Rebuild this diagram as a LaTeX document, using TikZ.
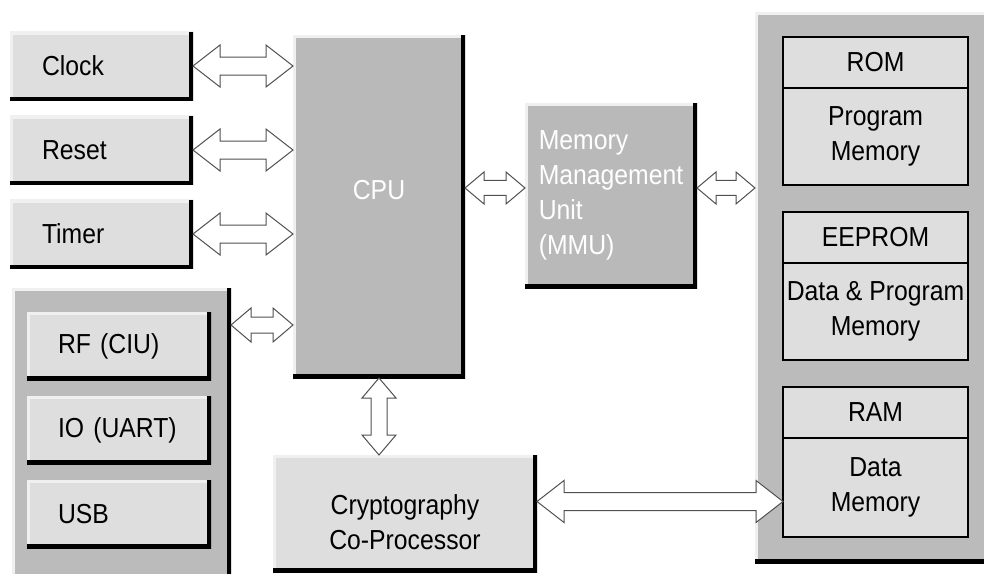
\documentclass[tikz,border=0pt]{standalone}
\usepackage{fontspec}
\setmainfont{Liberation Sans}[FakeStretch=0.9]
\usetikzlibrary{calc,positioning}

\definecolor{lightbox}{HTML}{DEDEDE}
\definecolor{darkbox}{HTML}{B9B9B9}
\definecolor{groupbox}{HTML}{BBBBBB}
\definecolor{bevel}{HTML}{F0F0F0}
\definecolor{busedge}{HTML}{505050}

\tikzset{
  raised/.style={path picture={
    \draw[bevel, line width=6pt] (path picture bounding box.south west) -- (path picture bounding box.north west) -- (path picture bounding box.north east);
    \draw[black, line width=8pt] (path picture bounding box.north east) -- (path picture bounding box.south east) -- (path picture bounding box.south west);
  }},
  unit/.style={raised, fill=lightbox, minimum height=69pt, inner xsep=32pt, text width=119pt, align=left},
  port/.style={raised, fill=lightbox, minimum height=68pt, inner xsep=31pt, text width=122pt, align=left},
  core/.style={raised, fill=darkbox, text=white},
  group/.style={raised, fill=groupbox},
  memhead/.style={draw, line width=1.2pt, fill=lightbox, minimum width=185pt, minimum height=51pt, outer sep=0pt},
  membody/.style={memhead, minimum height=97pt, align=center},
  busarrow/.style={draw=busedge, line width=1pt, fill=white, line join=miter},
}

% double bus arrow: from, to, head length, head half width, shaft half width
\newcommand{\dbus}[5]{%
  \draw[busarrow] (#1)
    -- ($(#1)!#3!(#2)!#4!90:(#2)$)
    -- ($(#1)!#3!(#2)!#5!90:(#2)$)
    -- ($(#2)!#3!(#1)!#5!-90:(#1)$)
    -- ($(#2)!#3!(#1)!#4!-90:(#1)$)
    -- (#2)
    -- ($(#2)!#3!(#1)!#4!90:(#1)$)
    -- ($(#2)!#3!(#1)!#5!90:(#1)$)
    -- ($(#1)!#3!(#2)!#5!-90:(#2)$)
    -- ($(#1)!#3!(#2)!#4!-90:(#2)$)
    -- cycle;}

\begin{document}
\begin{tikzpicture}[x=1pt, y=-1pt, every node/.style={font=\fontsize{27.5}{35}\selectfont, outer sep=0pt}]
\useasboundingbox (0,0) rectangle (984,573);

\node[group, minimum width=219pt, minimum height=292pt] (ioblock) at (121.5,434) {};
\node[group, minimum width=240pt, minimum height=551pt] (memory) at (875,287.5) {};

\node[unit] (clock) at (101.5,66) {Clock};
\node[unit] (reset) at (101.5,150) {Reset};
\node[unit] (timer) at (101.5,234) {Timer};

\node[port] (rf) at (119,346) {RF (CIU)};
\node[port] (io) at (119,430) {IO (UART)};
\node[port] (usb) at (119,514) {USB};

\node[core, minimum width=172pt, minimum height=343pt, text depth=33pt] (cpu) at (379,206.5) {CPU};
\node[core, minimum width=172pt, minimum height=185pt, align=left] (mmu) at (611,195.5) {Memory\\Management\\Unit\\(MMU)};
\node[raised, fill=lightbox, minimum width=264pt, minimum height=117pt, align=center, text height=78pt, text depth=6pt] (crypto) at (405,513.5) {Cryptography\\Co-Processor};

\node[memhead] (rom) at (875.5,62.5) {ROM};
\node[membody, below=0pt of rom] (progmem) {Program\\Memory};
\node[memhead] (eeprom) at (875.5,237.5) {EEPROM};
\node[membody, below=0pt of eeprom] (dpmem) {Data \& Program\\Memory};
\node[memhead] (ram) at (875.5,412.5) {RAM};
\node[membody, below=0pt of ram, minimum height=99pt] (datamem) {Data\\Memory};

\coordinate (ioport) at ([yshift=-37pt]ioblock.north east);
\coordinate (cryptoport) at ([yshift=12pt]crypto.east);

\dbus{clock.east}{clock.east -| cpu.west}{27pt}{21pt}{9pt}
\dbus{reset.east}{reset.east -| cpu.west}{27pt}{21pt}{9pt}
\dbus{timer.east}{timer.east -| cpu.west}{27pt}{21pt}{9pt}
\dbus{ioport}{ioport -| cpu.west}{20pt}{17pt}{8pt}
\dbus{cpu.east |- mmu.175}{mmu.175}{19pt}{16pt}{7.5pt}
\dbus{mmu.5}{mmu.5 -| memory.west}{19pt}{16pt}{7.5pt}
\dbus{cpu.south}{cpu.south |- crypto.north}{20pt}{17pt}{8pt}
\dbus{cryptoport}{cryptoport -| datamem.west}{27pt}{21pt}{9pt}
\end{tikzpicture}
\end{document}
